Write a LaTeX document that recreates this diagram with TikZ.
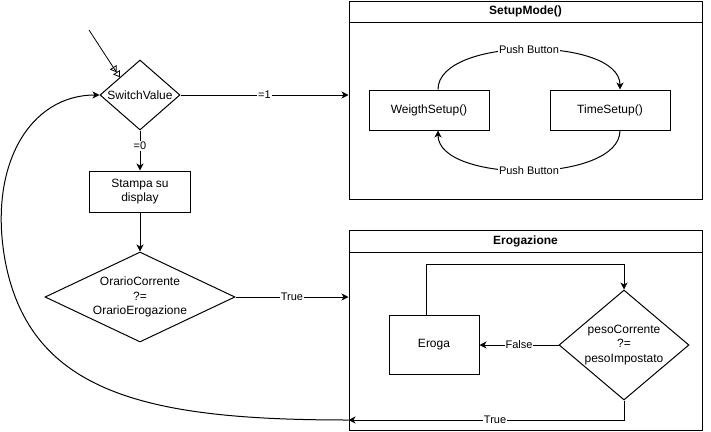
\documentclass[tikz,border=0pt]{standalone}
\usepackage{fontspec}
\setmainfont{Liberation Sans}
\usetikzlibrary{arrows.meta,positioning,shapes.geometric}
\tikzset{
  every node/.style={font=\fontsize{12}{14.5}\selectfont},
  box/.style={draw,line width=1pt,minimum width=120pt,minimum height=40pt,align=center,inner sep=2pt},
  cond/.style={draw,line width=1pt,diamond,align=center,inner sep=0pt},
  frame/.style={draw,line width=1pt,minimum width=353pt,minimum height=199pt},
  ftitle/.style={font=\fontsize{12}{14}\selectfont\bfseries},
  arrow/.style={line width=1pt,-{Stealth[length=7pt,width=7pt,inset=2pt]}},
  startarr/.style={line width=0.8pt,-{Triangle[open,length=6pt,width=8pt]Triangle[open,length=6pt,width=8pt]}},
  elabel/.style={fill=white,inner sep=1pt,font=\fontsize{11}{13}\selectfont},
}
\begin{document}
\begin{tikzpicture}[x=1pt,y=-1pt]
\useasboundingbox (0,0) rectangle (711,431);

% main flow
\node[cond,minimum width=80pt,minimum height=70pt,shape aspect=1.14] (switch) at (140,95) {SwitchValue};
\node[box,minimum width=101pt,minimum height=41pt,below=40pt of switch] (stampa) {Stampa su\\display};
\node[cond,minimum width=190pt,minimum height=90pt,shape aspect=2.11,below=39pt of stampa] (orario)
{OrarioCorrente\\?=\\OrarioErogazione};
\coordinate (start) at (89,30);

% setup frame
\node[frame,minimum height=198pt] (setup) at (525.5,100) {};
\draw[line width=1pt] ([yshift=-22pt]setup.north west) -- ([yshift=-22pt]setup.north east);
\node[ftitle] at ([yshift=-11pt]setup.north) {SetupMode()};
\node[box] (weigth) at (429,110) {WeigthSetup()};
\node[box,right=60pt of weigth] (time) {TimeSetup()};

% erogazione frame
\node[frame,minimum height=200pt] (erog) at (525.5,330) {};
\draw[line width=1pt] ([yshift=-23pt]erog.north west) -- ([yshift=-23pt]erog.north east);
\node[ftitle] at ([yshift=-11.5pt]erog.north) {Erogazione};
\node[cond,minimum width=130pt,minimum height=110pt,shape aspect=1.18] (peso) at (624,345)
{pesoCorrente\\?=\\pesoImpostato};
\node[box,minimum width=90pt,minimum height=59pt] (eroga) at (434,345) {Eroga};
\coordinate (exit) at (erog.west |- 0,420);

% arrows
\draw[startarr] (start) -- (switch.north west);
\draw[arrow] (switch.east) -- node[elabel]{=1} (switch.east -| setup.west);
\draw[arrow] (switch.south) -- node[elabel,pos=0.38]{=0} (stampa.north);
\draw[arrow] (stampa.south) -- (orario.north);
\draw[arrow] (orario.east) -- node[elabel]{True} (orario.east -| erog.west);
\draw[arrow] ([xshift=9pt]weigth.north) to[out=90,in=90,looseness=0.75] node[elabel]{Push Button} ([xshift=10pt]time.north);
\draw[arrow] ([xshift=10pt]time.south) to[out=-90,in=-90,looseness=0.75] node[elabel]{Push Button} ([xshift=9pt]weigth.south);
\draw[arrow] ([xshift=-8pt]eroga.north) |- ([yshift=25pt]peso.north) -- (peso.north);
\draw[arrow] (peso.west) -- node[elabel]{False} (eroga.east);
\draw[arrow] (peso.south) |- node[elabel,pos=0.734]{True} (exit);
\draw[arrow] (exit) .. controls (150,420) and (30,395) .. (5,260)
  .. controls (-12,165) and (30,95) .. (switch.west);

\end{tikzpicture}
\end{document}
